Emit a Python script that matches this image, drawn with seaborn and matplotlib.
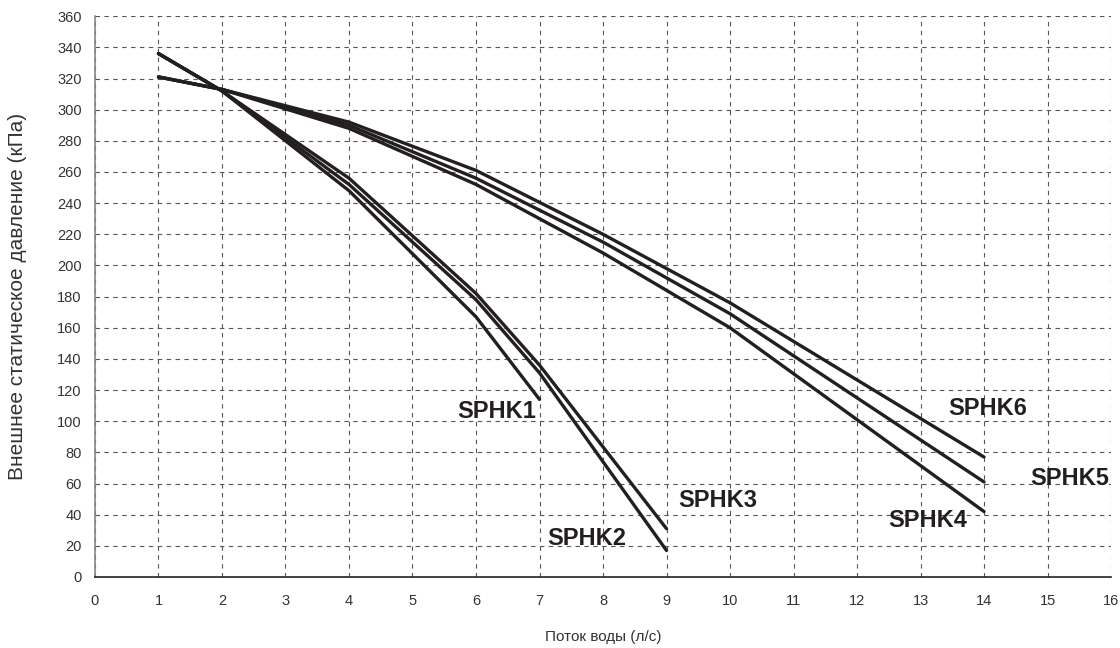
import matplotlib
matplotlib.use("Agg")
import matplotlib.pyplot as plt
import seaborn as sns
import pandas as pd

# Data
x_sphk1 = [1, 2, 4, 6, 7]
y_sphk1 = [336, 312, 248, 167, 114]
x_sphk2 = [1, 2, 4, 6, 7, 9]
y_sphk2 = [336, 312, 252, 178, 131, 17]
x_sphk3 = [1, 2, 4, 6, 7, 9]
y_sphk3 = [336, 312, 256, 182, 136, 31]
x_sphk4 = [1, 2, 4, 6, 8, 10, 14]
y_sphk4 = [321, 313, 288, 252, 208, 160, 42]
x_sphk5 = [1, 2, 4, 6, 8, 10, 14]
y_sphk5 = [321, 313, 290, 256, 215, 169, 61]
x_sphk6 = [1, 2, 4, 6, 8, 10, 14]
y_sphk6 = [321, 313, 292, 261, 220, 176, 77]

series_names = ["SPHK1", "SPHK2", "SPHK3", "SPHK4", "SPHK5", "SPHK6"]
label_x = [6.33, 7.75, 9.81, 13.12, 15.35, 14.06]
label_y = [106, 25, 49, 36, 63, 108]

x_ticks = list(range(0, 17))
y_ticks = list(range(0, 361, 20))
x_title = "Поток воды (л/с)"
y_title = "Внешнее статическое давление (кПа)"

xs = [x_sphk1, x_sphk2, x_sphk3, x_sphk4, x_sphk5, x_sphk6]
ys = [y_sphk1, y_sphk2, y_sphk3, y_sphk4, y_sphk5, y_sphk6]
rows = []
for name, xv, yv in zip(series_names, xs, ys):
    for a, b in zip(xv, yv):
        rows.append({"flow": a, "pressure": b, "series": name})
df = pd.DataFrame(rows)

sns.set_style("white")
plt.rcParams["font.family"] = ["Liberation Sans", "DejaVu Sans"]

fig = plt.figure(figsize=(11.2, 6.48), dpi=100)
ax = fig.add_axes([0.0848, 0.1096, 0.9072, 0.8654])

line_color = "#231f20"
sns.lineplot(data=df, x="flow", y="pressure", hue="series", units="series",
             estimator=None, sort=False, palette=[line_color] * 6,
             linewidth=2.4, legend=False, ax=ax)

for name, lx, ly in zip(series_names, label_x, label_y):
    ax.text(lx, ly, name, ha="center", va="center", fontsize=17,
            fontweight="bold", color=line_color)

ax.set_xlim(0, 16)
ax.set_ylim(0, 360)
ax.set_xticks(x_ticks)
ax.set_yticks(y_ticks)
ax.tick_params(axis="both", direction="inout", length=7, width=0.8,
               labelsize=10.5, colors="#333333", pad=6)
ax.tick_params(axis="x", pad=9)

ax.grid(True, which="major", linestyle=(0, (4, 4)), color="#555555", linewidth=0.8)
ax.set_axisbelow(True)

for s in ["top", "right"]:
    ax.spines[s].set_visible(False)
ax.spines["left"].set_color("#888888")
ax.spines["left"].set_linewidth(1.2)
ax.spines["bottom"].set_color("#222222")
ax.spines["bottom"].set_linewidth(1.2)

ax.set_xlabel(x_title, fontsize=11, color="#333333", va="center")
ax.xaxis.set_label_coords(0.5, -0.107)
ax.set_ylabel(y_title, fontsize=15, color="#333333", va="center")
ax.yaxis.set_label_coords(-0.0758, 0.5)

fig.savefig("out.png", dpi=100)
